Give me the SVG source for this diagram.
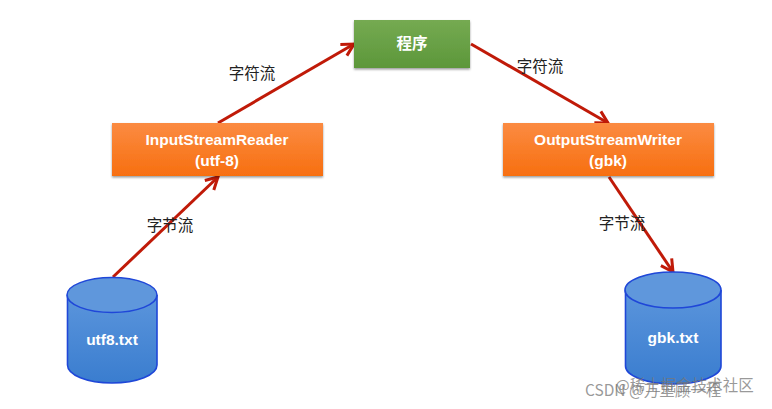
<svg xmlns="http://www.w3.org/2000/svg" width="772" height="409" viewBox="0 0 772 409">
<style>
.box{font:bold 15.5px "Liberation Sans","Noto Sans CJK SC",sans-serif;fill:#fff;text-anchor:middle}
.lbl{font:15.5px "Noto Sans CJK SC","Liberation Sans",sans-serif;fill:#222;text-anchor:middle}
.wm{font:15.5px "Noto Sans CJK SC","Liberation Sans",sans-serif;fill:#777;fill-opacity:.75}
.con{fill:none;stroke:#c01a08;stroke-width:3;marker-end:url(#arr)}
.cyl{fill:url(#blue);stroke:#1f47d8;stroke-width:1.6}
.top{fill:#5f97dc;stroke:#1f47d8;stroke-width:1.6}
</style>
<defs>
<linearGradient id="orange" x1="0" y1="0" x2="0" y2="1"><stop offset="0" stop-color="#fb8b42"/><stop offset="1" stop-color="#f76f10"/></linearGradient>
<linearGradient id="green" x1="0" y1="0" x2="0" y2="1"><stop offset="0" stop-color="#75aa52"/><stop offset="1" stop-color="#5d973a"/></linearGradient>
<linearGradient id="blue" x1="0" y1="0" x2="0" y2="1"><stop offset="0" stop-color="#5b95dc"/><stop offset="1" stop-color="#3a7dcf"/></linearGradient>
<marker id="arr" markerUnits="userSpaceOnUse" markerWidth="18" markerHeight="18" refX="15" refY="8" orient="auto" viewBox="0 0 18 16"><path d="M3 1.5L15 8L3 14.5" fill="none" stroke="#c01a08" stroke-width="3"/></marker>
<filter id="sh" x="-5%" y="-10%" width="110%" height="125%"><feDropShadow dx="0" dy="1.5" stdDeviation="1.3" flood-color="#000" flood-opacity=".4"/></filter>
</defs>
<rect width="772" height="409" fill="#fff"/>
<g id="connectors">
<path class="con" d="M218 123L354 44"/>
<path class="con" d="M113 277L218 177"/>
<path class="con" d="M471 44L608 123"/>
<path class="con" d="M609 177L673 272"/>
</g>
<g id="program"><rect x="354" y="20" width="116" height="48" fill="url(#green)" filter="url(#sh)"/><text class="box" x="412" y="49" style="font-family:'Noto Sans CJK SC',sans-serif">程序</text></g>
<g id="reader"><rect x="112" y="123" width="211" height="53" fill="url(#orange)" filter="url(#sh)"/><text class="box" x="217" y="145">InputStreamReader</text><text class="box" x="217" y="166">(utf-8)</text></g>
<g id="writer"><rect x="503" y="123" width="211" height="53" fill="url(#orange)" filter="url(#sh)"/><text class="box" x="608" y="145">OutputStreamWriter</text><text class="box" x="608" y="166">(gbk)</text></g>
<g id="utf8"><path class="cyl" d="M67.500 295V365C67.500 375 87 383 112 383S157 375 157 365V295"/><ellipse class="top" cx="112" cy="295" rx="45" ry="17.500"/><text class="box" x="112" y="345">utf8.txt</text></g>
<g id="gbk"><path class="cyl" d="M625.500 290V366C625.500 376 647 384 673 384S721 376 721 366V290"/><ellipse class="top" cx="673" cy="290" rx="48" ry="18"/><text class="box" x="673" y="343">gbk.txt</text></g>
<g id="labels">
<text class="lbl" x="252" y="79">字符流</text>
<text class="lbl" x="540" y="72">字符流</text>
<text class="lbl" x="170" y="231">字节流</text>
<text class="lbl" x="622" y="229">字节流</text>
</g>
<g id="watermark">
<text class="wm" x="615" y="391">@稀土掘金技术社区</text>
<text class="wm" x="585" y="396">CSDN @万里顾一程</text>
</g>
</svg>
